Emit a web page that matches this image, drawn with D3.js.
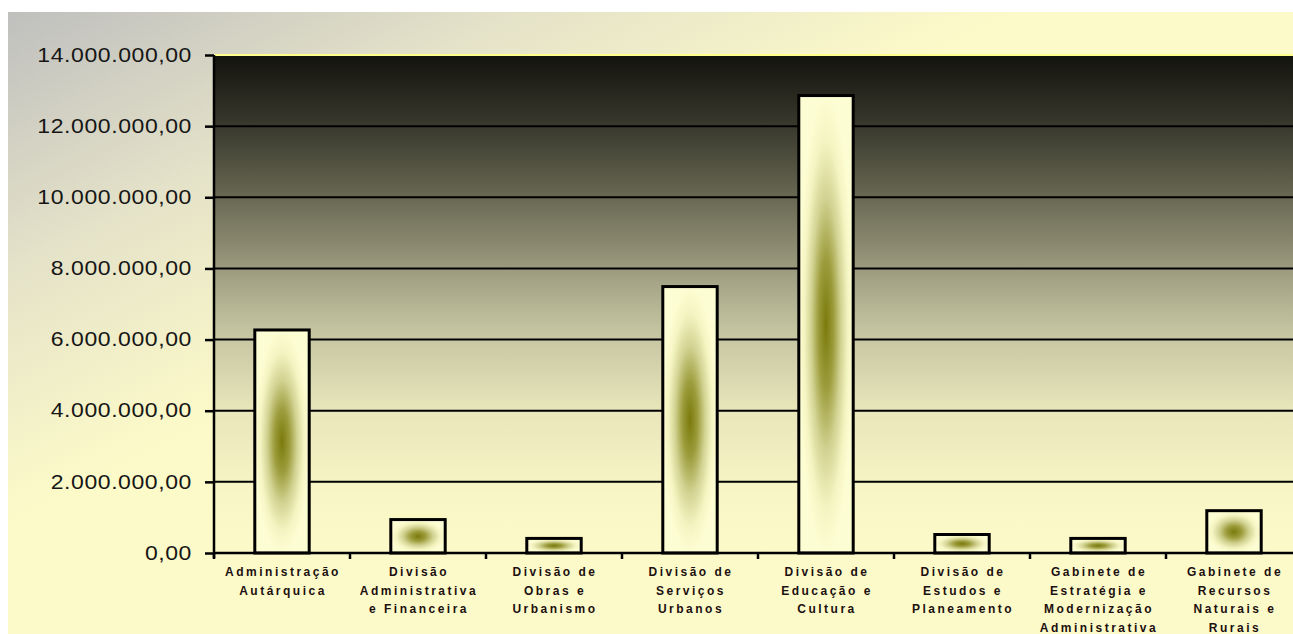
<!DOCTYPE html>
<html>
<head>
<meta charset="utf-8">
<script src="https://cdn.jsdelivr.net/npm/d3@7"></script>
<style>
  body { margin: 0; background: #fff; }
  svg { display: block; }
  .ylab { font-family: "Liberation Sans", Arial, sans-serif; font-size: 19.5px; letter-spacing: 0.5px; fill: #161616; }
  .xlab { font-family: "Liberation Sans", Arial, sans-serif; font-size: 12px; font-weight: bold; letter-spacing: 2.5px; fill: #1c1010; }
</style>
</head>
<body>
<svg width="1293" height="634"></svg>
<script>
// categories and their wrapped labels
let categories = [
  'Administração Autárquica',
  'Divisão Administrativa e Financeira',
  'Divisão de Obras e Urbanismo',
  'Divisão de Serviços Urbanos',
  'Divisão de Educação e Cultura',
  'Divisão de Estudos e Planeamento',
  'Gabinete de Estratégia e Modernização Administrativa',
  'Gabinete de Recursos Naturais e Rurais'
];
let labelLines = [
  ['Administração', 'Autárquica'],
  ['Divisão', 'Administrativa', 'e Financeira'],
  ['Divisão de', 'Obras e', 'Urbanismo'],
  ['Divisão de', 'Serviços', 'Urbanos'],
  ['Divisão de', 'Educação e', 'Cultura'],
  ['Divisão de', 'Estudos e', 'Planeamento'],
  ['Gabinete de', 'Estratégia e', 'Modernização', 'Administrativa'],
  ['Gabinete de', 'Recursos', 'Naturais e', 'Rurais']
];
let values = [6270000, 940000, 410000, 7490000, 12860000, 520000, 410000, 1190000];
let yTicks = [0, 2000000, 4000000, 6000000, 8000000, 10000000, 12000000, 14000000];

let svg = d3.select('svg');
let defs = svg.append('defs');

let pt = d3.formatLocale({decimal: ',', thousands: '.', grouping: [3], currency: ['', ' €']});
let fmt = pt.format(',.2f');

// outer background
let bg = defs.append('linearGradient').attr('id', 'bg')
  .attr('gradientUnits', 'userSpaceOnUse')
  .attr('x1', 8).attr('y1', 12).attr('x2', 215).attr('y2', 420);
bg.append('stop').attr('offset', 0).attr('stop-color', '#bfbfbe');
bg.append('stop').attr('offset', 0.5).attr('stop-color', '#e4e2c8');
bg.append('stop').attr('offset', 1).attr('stop-color', '#fdfac9');

// plot area
let pg = defs.append('linearGradient').attr('id', 'plotbg')
  .attr('x1', 0).attr('y1', 0).attr('x2', 0).attr('y2', 1);
[[0, '#13130e'], [0.15, '#3b3b2f'], [0.3, '#6e6d57'], [0.45, '#a3a285'], [0.55, '#c4c3a0'],
 [0.72, '#e9e7bb'], [0.88, '#f8f6c6'], [1, '#fdfac9']].forEach(s => {
  pg.append('stop').attr('offset', s[0]).attr('stop-color', s[1]);
});

// bar fill
let bf = defs.append('radialGradient').attr('id', 'barfill')
  .attr('cx', 0.5).attr('cy', 0.5).attr('r', 0.5);
[[0, '#7a7a0c'], [0.28, '#9c9c3c'], [0.55, '#d2d292'], [0.8, '#f4f4c2'], [1, '#fdfdd3']].forEach(s => {
  bf.append('stop').attr('offset', s[0]).attr('stop-color', s[1]);
});

svg.append('rect')
  .attr('x', 8).attr('y', 12).attr('width', 1285).attr('height', 622)
  .attr('fill', 'url(#bg)');

let y = d3.scaleLinear().domain([0, 14000000]).range([553, 55]);
let x = d3.scaleBand().domain(categories).range([214, 214 + 8 * 136])
  .paddingInner(0.6).paddingOuter(0.3);

svg.append('rect')
  .attr('x', 214).attr('y', y(14000000))
  .attr('width', 1293 - 214).attr('height', y(0) - y(14000000))
  .attr('fill', 'url(#plotbg)');

// top border
svg.append('line')
  .attr('x1', 214).attr('x2', 1293)
  .attr('y1', y(14000000)).attr('y2', y(14000000))
  .attr('stroke', '#ffff8c').attr('stroke-width', 2);

// gridlines
svg.append('g')
  .selectAll('line')
  .data(yTicks.filter(d => d > 0 && d < 14000000))
  .enter()
  .append('line')
  .attr('x1', 214).attr('x2', 1293)
  .attr('y1', d => y(d)).attr('y2', d => y(d))
  .attr('stroke', '#000').attr('stroke-width', 2);

// bars
svg.append('g')
  .selectAll('rect')
  .data(values)
  .enter()
  .append('rect')
  .attr('x', (d, i) => x(categories[i]))
  .attr('y', d => y(d))
  .attr('width', x.bandwidth())
  .attr('height', d => y(0) - y(d))
  .attr('fill', 'url(#barfill)')
  .attr('stroke', '#000')
  .attr('stroke-width', 3);

// y axis
let yAxis = d3.axisLeft(y).tickValues(yTicks).tickFormat(fmt).tickSize(9).tickPadding(0);
let ya = svg.append('g').attr('transform', 'translate(214,0)').call(yAxis);
ya.select('.domain').attr('stroke', '#000').attr('stroke-width', 2.5)
  .attr('d', 'M0,' + y(14000000) + 'V' + (y(0) + 5));
ya.selectAll('.tick line').attr('stroke', '#000').attr('stroke-width', 2.5);
ya.selectAll('.tick text')
  .attr('class', 'ylab').attr('fill', null)
  .attr('x', -22 / 1.18)
  .attr('transform', 'scale(1.18,1)');
ya.attr('font-family', null).attr('font-size', null);

// x axis
let xTicks = d3.range(9).map(i => 214 + i * x.step());
svg.append('line')
  .attr('x1', 214).attr('x2', 1293)
  .attr('y1', y(0)).attr('y2', y(0))
  .attr('stroke', '#000').attr('stroke-width', 2.5);
svg.append('g')
  .selectAll('line')
  .data(xTicks)
  .enter()
  .append('line')
  .attr('x1', d => d).attr('x2', d => d)
  .attr('y1', y(0)).attr('y2', y(0) + 6)
  .attr('stroke', '#000').attr('stroke-width', 2.5);

let lab = svg.append('g')
  .selectAll('text')
  .data(categories)
  .enter()
  .append('text')
  .attr('class', 'xlab')
  .attr('text-anchor', 'middle')
  .attr('transform', d => 'translate(' + (x(d) + x.bandwidth() / 2 + 1) + ',' + (y(0) + 23) + ')');
lab.selectAll('tspan')
  .data((d, i) => labelLines[i])
  .enter()
  .append('tspan')
  .attr('x', 0)
  .attr('y', (d, i) => i * 18.5)
  .text(d => d);
</script>
</body>
</html>
